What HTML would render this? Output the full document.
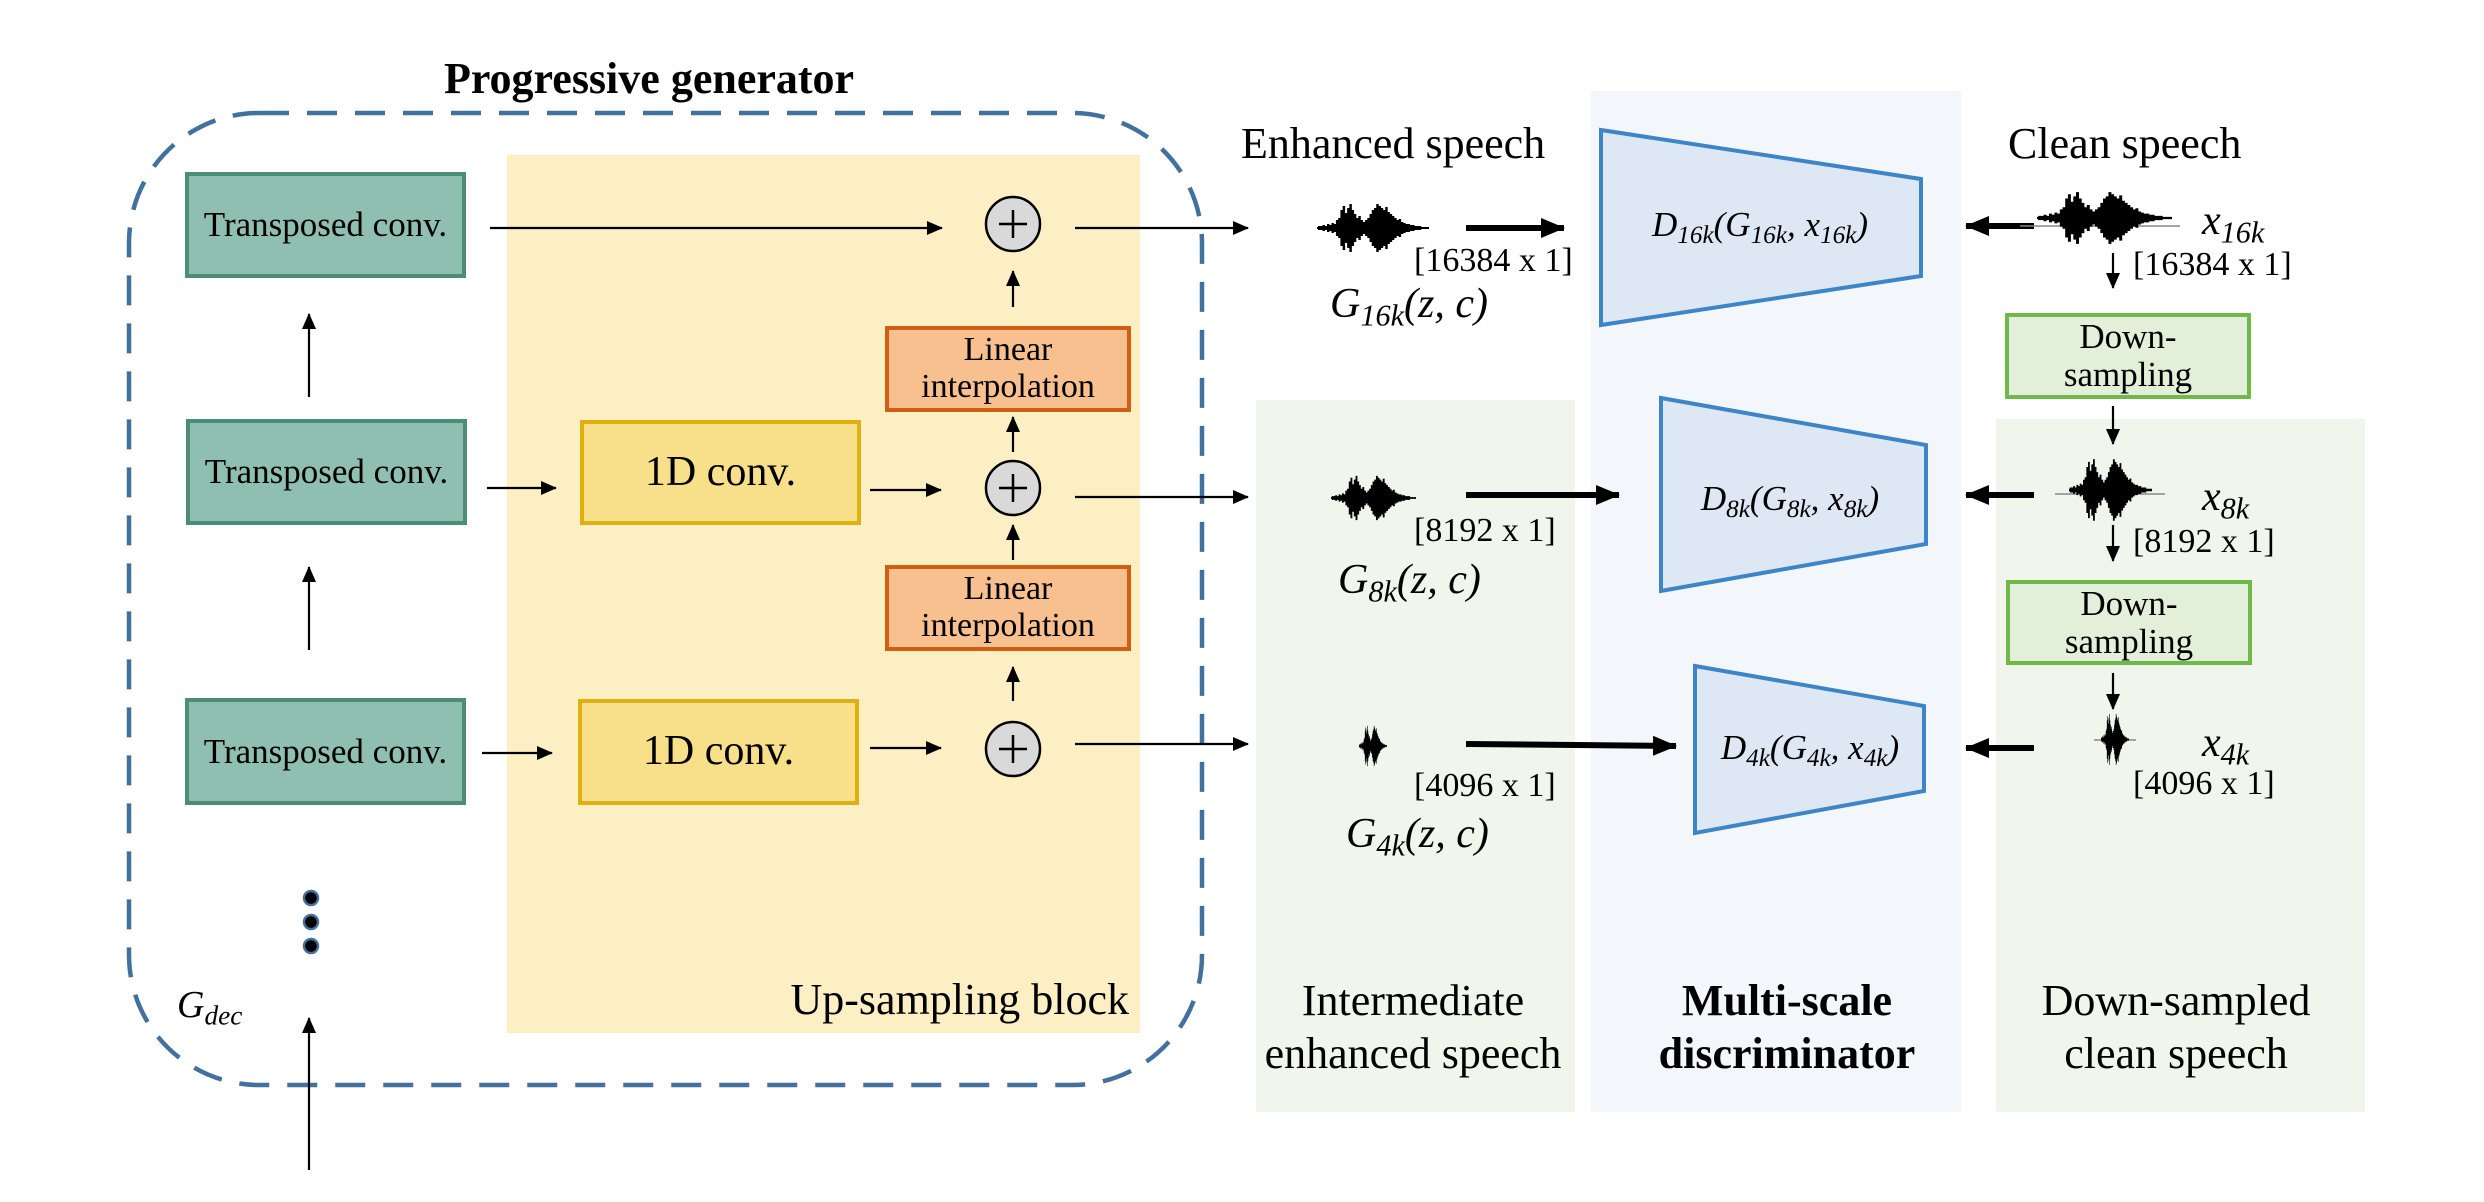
<!DOCTYPE html>
<html><head><meta charset="utf-8"><style>
html,body{margin:0;padding:0;background:#fff}
body{width:2484px;height:1202px;position:relative;overflow:hidden;font-family:"Liberation Serif",serif;color:#000}
.a{position:absolute}
.box{position:absolute;box-sizing:border-box;display:flex;align-items:center;justify-content:center;text-align:center;line-height:1.08}
.t{position:absolute;white-space:nowrap}
.c{transform:translateX(-50%);text-align:center}
.m{font-style:italic;font-family:"Liberation Serif",serif}
.m sub{font-size:0.72em;vertical-align:-0.28em}
</style></head><body>
<div class="a" style="left:507px;top:155px;width:633px;height:878px;background:#fcefc4"></div>
<div class="a" style="left:1256px;top:400px;width:319px;height:712px;background:#f1f6ec"></div>
<div class="a" style="left:1591px;top:91px;width:370px;height:1021px;background:#f3f7fc"></div>
<div class="a" style="left:1996px;top:419px;width:369px;height:693px;background:#f1f6ec"></div>

<svg class="a" style="left:0;top:0" width="2484" height="1202">
<defs>
<marker id="h1" markerUnits="userSpaceOnUse" markerWidth="16" markerHeight="14" refX="15" refY="7" orient="auto"><path d="M0,0L16,7L0,14z" fill="#000"/></marker>
<marker id="h2" markerUnits="userSpaceOnUse" markerWidth="24" markerHeight="20" refX="23" refY="10" orient="auto"><path d="M0,0L24,10L0,20z" fill="#000"/></marker>
<symbol id="wv" viewBox="0 0 100 50" preserveAspectRatio="none">
<path stroke="#000" stroke-width="2.2" fill="none" d="M0 24V26M2 23V27M4 23V27M6 22V28M8 23V27M10 21V29M12 22V28M14 20V30M16 21V29M18 17V33M20 15V35M22 7V43M24 3V47M26 10V40M28 5V45M30 1V49M32 7V43M34 11V39M36 15V35M38 13V37M40 17V33M42 19V31M44 17V33M46 15V35M48 11V39M50 7V43M52 5V45M54 1V49M56 3V47M58 5V45M60 7V43M62 4V46M64 9V41M66 11V39M68 13V37M70 15V35M72 17V33M74 16V34M76 19V31M78 20V30M80 21V29M82 21V29M84 22V28M86 22V28M88 23V27M90 23V27M92 23V27M94 24V26M96 24V26M98 24V26M100 24V26"/>
</symbol>
</defs>
<rect x="129" y="113" width="1073" height="972" rx="130" ry="130" fill="none" stroke="#41719c" stroke-width="4.5" stroke-dasharray="30,18"/>
<g stroke="#000" stroke-width="2.2" fill="none">
<line x1="309" y1="397" x2="309" y2="314" marker-end="url(#h1)"/>
<line x1="309" y1="650" x2="309" y2="567" marker-end="url(#h1)"/>
<line x1="309" y1="1170" x2="309" y2="1018" marker-end="url(#h1)"/>
<line x1="490" y1="228" x2="942" y2="228" marker-end="url(#h1)"/>
<line x1="487" y1="488" x2="556" y2="488" marker-end="url(#h1)"/>
<line x1="482" y1="753" x2="552" y2="753" marker-end="url(#h1)"/>
<line x1="870" y1="490" x2="941" y2="490" marker-end="url(#h1)"/>
<line x1="870" y1="748" x2="941" y2="748" marker-end="url(#h1)"/>
<line x1="1013" y1="307" x2="1013" y2="271" marker-end="url(#h1)"/>
<line x1="1013" y1="452" x2="1013" y2="417" marker-end="url(#h1)"/>
<line x1="1013" y1="560" x2="1013" y2="525" marker-end="url(#h1)"/>
<line x1="1013" y1="701" x2="1013" y2="667" marker-end="url(#h1)"/>
<line x1="1075" y1="228" x2="1248" y2="228" marker-end="url(#h1)"/>
<line x1="1075" y1="497" x2="1248" y2="497" marker-end="url(#h1)"/>
<line x1="1075" y1="744" x2="1248" y2="744" marker-end="url(#h1)"/>
<line x1="2113" y1="253" x2="2113" y2="288" marker-end="url(#h1)"/>
<line x1="2113" y1="406" x2="2113" y2="444" marker-end="url(#h1)"/>
<line x1="2113" y1="525" x2="2113" y2="561" marker-end="url(#h1)"/>
<line x1="2113" y1="673" x2="2113" y2="709" marker-end="url(#h1)"/>
</g>
<g fill="#d9d9d9" stroke="#000" stroke-width="2.5">
<circle cx="1013" cy="224" r="27"/><circle cx="1013" cy="488" r="27"/><circle cx="1013" cy="749" r="27"/>
</g>
<g stroke="#000" stroke-width="2.5">
<path d="M999 224H1027M1013 210V238"/><path d="M999 488H1027M1013 474V502"/><path d="M999 749H1027M1013 735V763"/>
</g>
<g fill="#000" stroke="#41719c" stroke-width="2.5">
<circle cx="311" cy="898" r="7"/><circle cx="311" cy="922" r="7"/><circle cx="311" cy="946" r="7"/>
</g>
<g stroke="#000" stroke-width="6" fill="none">
<line x1="1466" y1="228" x2="1564" y2="228" marker-end="url(#h2)"/>
<line x1="1466" y1="495" x2="1619" y2="495" marker-end="url(#h2)"/>
<line x1="1466" y1="744" x2="1676" y2="746" marker-end="url(#h2)"/>
<line x1="2034" y1="226" x2="1966" y2="226" marker-end="url(#h2)"/>
<line x1="2034" y1="495" x2="1966" y2="495" marker-end="url(#h2)"/>
<line x1="2034" y1="748" x2="1966" y2="748" marker-end="url(#h2)"/>
</g>
<g fill="#dde8f4" stroke="#3d85c6" stroke-width="4">
<polygon points="1601,130 1921,179 1921,276 1601,325"/>
<polygon points="1661,398 1926,445 1926,544 1661,591"/>
<polygon points="1695,666 1924,706 1924,791 1695,833"/>
</g>
<use href="#wv" x="1317" y="203" width="112" height="50"/>
<use href="#wv" x="1331" y="475" width="85" height="46"/>
<use href="#wv" x="1359" y="725" width="28" height="42"/>
<line x1="2020" y1="226" x2="2180" y2="226" stroke="#888" stroke-width="1.5"/>
<use href="#wv" x="2037" y="191" width="135" height="54"/>
<line x1="2055" y1="494" x2="2165" y2="494" stroke="#888" stroke-width="1.5"/>
<use href="#wv" x="2069" y="458" width="83" height="64"/>
<line x1="2094" y1="740" x2="2136" y2="740" stroke="#888" stroke-width="1.5"/>
<use href="#wv" x="2101" y="713" width="28" height="53"/>
</svg>

<div class="box" style="left:185px;top:172px;width:281px;height:106px;background:#8fbfb1;border:4px solid #4e8c78;font-size:35px">Transposed conv.</div>
<div class="box" style="left:186px;top:419px;width:281px;height:106px;background:#8fbfb1;border:4px solid #4e8c78;font-size:35px">Transposed conv.</div>
<div class="box" style="left:185px;top:698px;width:281px;height:107px;background:#8fbfb1;border:4px solid #4e8c78;font-size:35px">Transposed conv.</div>
<div class="box" style="left:580px;top:420px;width:281px;height:105px;background:#f8e08a;border:4px solid #e0b010;font-size:42px">1D conv.</div>
<div class="box" style="left:578px;top:699px;width:281px;height:106px;background:#f8e08a;border:4px solid #e0b010;font-size:42px">1D conv.</div>
<div class="box" style="left:885px;top:326px;width:246px;height:86px;background:#f8c08e;border:4px solid #d06010;font-size:34px">Linear<br>interpolation</div>
<div class="box" style="left:885px;top:565px;width:246px;height:86px;background:#f8c08e;border:4px solid #d06010;font-size:34px">Linear<br>interpolation</div>
<div class="box" style="left:2005px;top:313px;width:246px;height:86px;background:#e2efd9;border:4px solid #70b84a;font-size:35px">Down-<br>sampling</div>
<div class="box" style="left:2006px;top:580px;width:246px;height:85px;background:#e2efd9;border:4px solid #70b84a;font-size:35px">Down-<br>sampling</div>

<div class="t c" style="left:649px;top:53px;font-size:44px;font-weight:bold">Progressive generator</div>
<div class="t" style="right:1355px;top:974px;font-size:44px">Up-sampling block</div>
<div class="t m" style="left:177px;top:983px;font-size:38px">G<sub>dec</sub></div>
<div class="t" style="left:1241px;top:118px;font-size:44px">Enhanced speech</div>
<div class="t" style="left:2008px;top:118px;font-size:44px">Clean speech</div>

<div class="t" style="left:1414px;top:242px;font-size:34px">[16384 x 1]</div>
<div class="t m" style="left:1330px;top:280px;font-size:42px">G<sub>16k</sub>(z, c)</div>
<div class="t" style="left:1414px;top:512px;font-size:34px">[8192 x 1]</div>
<div class="t m" style="left:1338px;top:556px;font-size:42px">G<sub>8k</sub>(z, c)</div>
<div class="t" style="left:1414px;top:767px;font-size:34px">[4096 x 1]</div>
<div class="t m" style="left:1346px;top:810px;font-size:42px">G<sub>4k</sub>(z, c)</div>

<div class="t m c" style="left:1760px;top:205px;font-size:35px">D<sub>16k</sub>(G<sub>16k</sub>, x<sub>16k</sub>)</div>
<div class="t m c" style="left:1790px;top:479px;font-size:35px">D<sub>8k</sub>(G<sub>8k</sub>, x<sub>8k</sub>)</div>
<div class="t m c" style="left:1810px;top:728px;font-size:35px">D<sub>4k</sub>(G<sub>4k</sub>, x<sub>4k</sub>)</div>

<div class="t m" style="left:2202px;top:197px;font-size:42px">x<sub>16k</sub></div>
<div class="t" style="left:2133px;top:246px;font-size:34px">[16384 x 1]</div>
<div class="t m" style="left:2202px;top:473px;font-size:42px">x<sub>8k</sub></div>
<div class="t" style="left:2133px;top:523px;font-size:34px">[8192 x 1]</div>
<div class="t m" style="left:2202px;top:719px;font-size:42px">x<sub>4k</sub></div>
<div class="t" style="left:2133px;top:765px;font-size:34px">[4096 x 1]</div>

<div class="t c" style="left:1413px;top:974px;font-size:44px;line-height:53px">Intermediate<br>enhanced speech</div>
<div class="t c" style="left:1787px;top:974px;font-size:44px;line-height:53px;font-weight:bold">Multi-scale<br>discriminator</div>
<div class="t c" style="left:2176px;top:974px;font-size:44px;line-height:53px">Down-sampled<br>clean speech</div>
</body></html>
